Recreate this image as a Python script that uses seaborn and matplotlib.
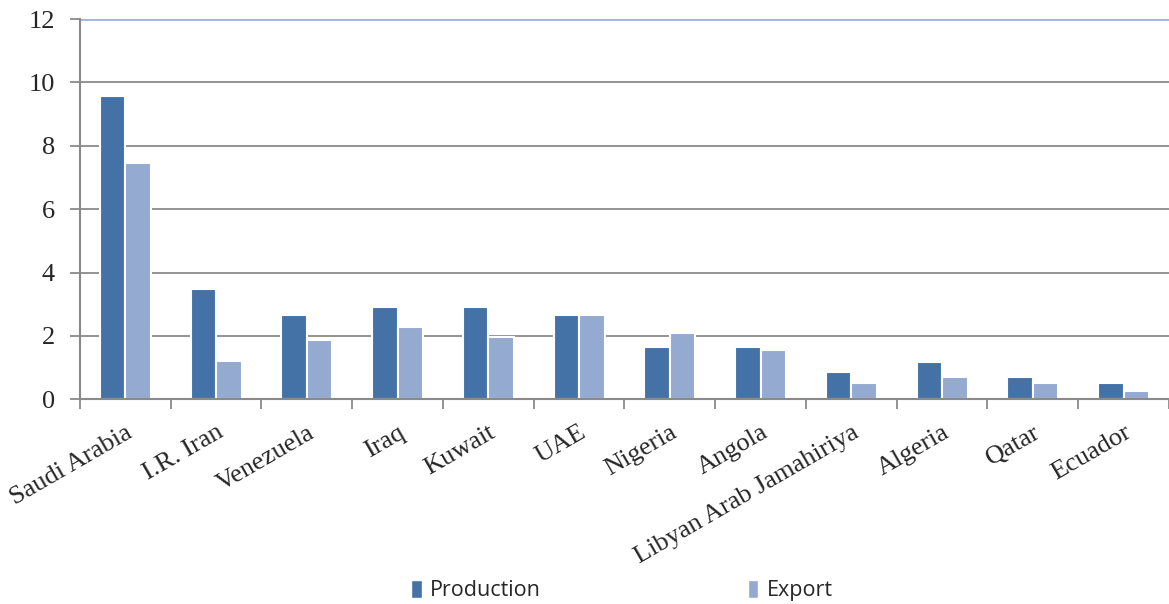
import pandas as pd
import matplotlib.pyplot as plt
import seaborn as sns
from matplotlib.patches import Patch

# Chart data (million barrels per day)
countries = ['Saudi Arabia', 'I.R. Iran', 'Venezuela', 'Iraq', 'Kuwait', 'UAE',
             'Nigeria', 'Angola', 'Libyan Arab Jamahiriya', 'Algeria', 'Qatar', 'Ecuador']
production = [9.58, 3.47, 2.66, 2.9, 2.9, 2.66, 1.66, 1.66, 0.87, 1.17, 0.69, 0.5]
export = [7.46, 1.2, 1.87, 2.28, 1.98, 2.66, 2.08, 1.56, 0.5, 0.69, 0.5, 0.27]
series = ['Production', 'Export']
colors = ['#4472A7', '#95AAD0']

df = pd.DataFrame({'Country': countries * 2,
                   'Series': ['Production'] * len(countries) + ['Export'] * len(countries),
                   'Value': production + export})

sns.set_style('white')
plt.rcParams['font.family'] = ['Liberation Serif', 'DejaVu Serif']

fig = plt.figure(figsize=(11.69, 6.04), dpi=100)
ax = fig.add_axes([0.0684, 0.339, 0.9316, 0.6295])

# grid lines first so the bars sit on top
for y in [2, 4, 6, 8, 10]:
    ax.axhline(y, color='#8a8a8a', linewidth=1.3, zorder=0)
ax.axhline(12, color='#9fb4dc', linewidth=2, zorder=0)

sns.barplot(data=df, x='Country', y='Value', hue='Series', hue_order=series,
            palette=colors, width=0.56, edgecolor='white', linewidth=1.5,
            saturation=1, legend=False, ax=ax, zorder=2)

ax.set_xlim(-0.5, 11.5)
ax.set_ylim(0, 12)
ax.set_yticks(range(0, 13, 2))
ax.set_xlabel('')
ax.set_ylabel('')

for side in ['top', 'right']:
    ax.spines[side].set_visible(False)
for side in ['left', 'bottom']:
    ax.spines[side].set_color('#8a8a8a')
    ax.spines[side].set_linewidth(1.5)

ax.tick_params(axis='y', direction='out', length=7, width=1.3, color='#8a8a8a',
               pad=11, labelsize=19, left=True)
ax.tick_params(axis='x', which='major', length=0, pad=16, labelsize=19)
ax.set_xticks([i - 0.5 for i in range(len(countries) + 1)], minor=True)
ax.tick_params(axis='x', which='minor', direction='out', length=7, width=1.3,
               color='#8a8a8a', bottom=True)

for lab in ax.get_xticklabels():
    lab.set_rotation(30)
    lab.set_ha('right')
    lab.set_va('top')
    lab.set_rotation_mode('anchor')

handles = [Patch(facecolor=c, edgecolor='white') for c in colors]
fig.legend(handles, series, loc='center', bbox_to_anchor=(0.532, 0.022), ncol=2,
           frameon=False, columnspacing=9.6, handlelength=0.5, handleheight=0.9,
           handletextpad=0.4, prop={'family': 'Open Sans', 'size': 15.5})

fig.savefig('out.png', dpi=100)
